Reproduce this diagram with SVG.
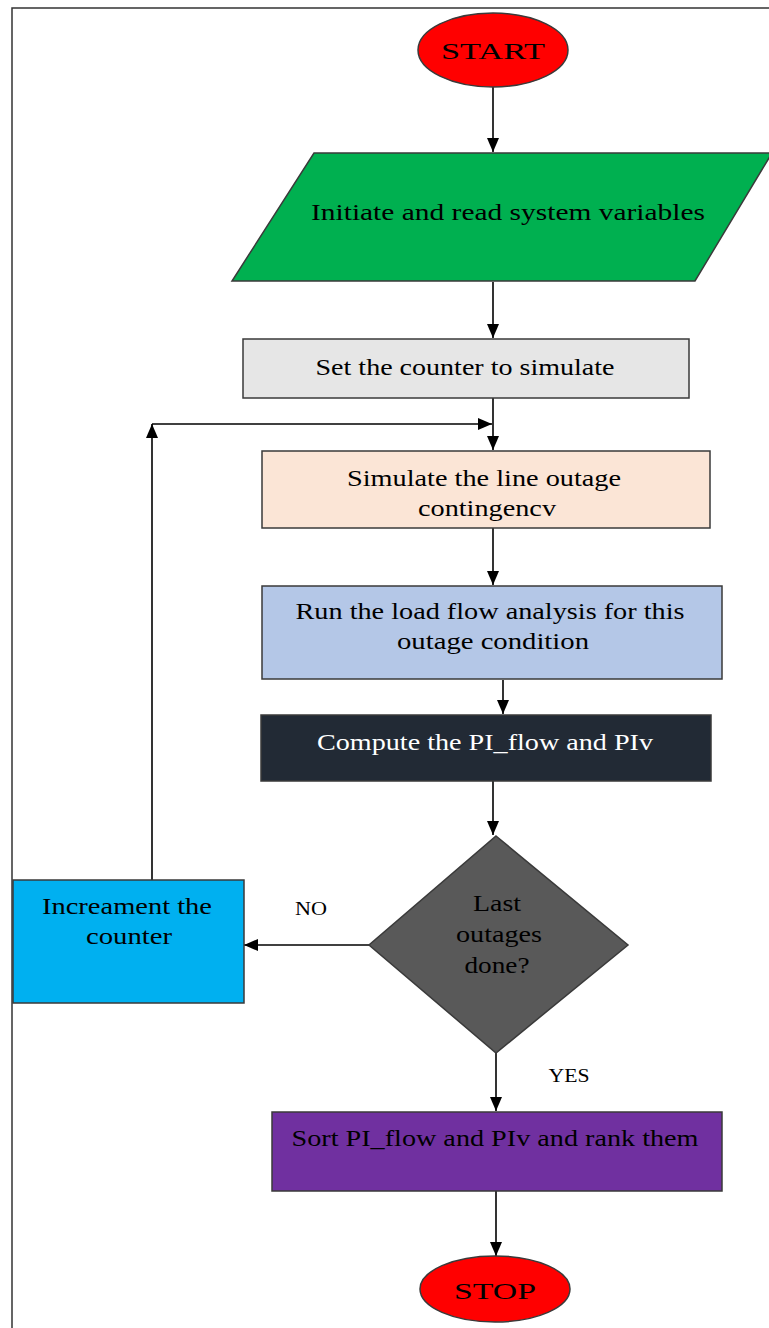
<svg xmlns="http://www.w3.org/2000/svg" width="769" height="1328" viewBox="0 0 769 1328">
<defs>
<marker id="arr" markerUnits="userSpaceOnUse" markerWidth="14" markerHeight="12" refX="14" refY="6" orient="auto">
<path d="M0,0 L14,6 L0,12 z" fill="#000"/>
</marker>
<style>
.t{font-family:"Liberation Serif","Times New Roman",serif;font-size:24px;fill:#000;text-anchor:middle}
.w{fill:#fff}
.lbl{font-family:"Liberation Serif","Times New Roman",serif;font-size:18px;fill:#000;text-anchor:middle}
.n{stroke:#3a3a3a;stroke-width:1.5}
.c{fill:none;stroke:#000;stroke-width:1.6}
</style>
</defs>
<rect width="769" height="1328" fill="#fff"/>
<rect x="12" y="8" width="780" height="1340" fill="none" stroke="#333" stroke-width="1.5"/>
<g id="connectors">
<path class="c" d="M493,86 L493,152" marker-end="url(#arr)"/>
<path class="c" d="M493,282 L493,338" marker-end="url(#arr)"/>
<path class="c" d="M493,398 L493,450" marker-end="url(#arr)"/>
<path class="c" d="M152,880 L152,424" marker-end="url(#arr)"/>
<path class="c" d="M152,424 L492,424" marker-end="url(#arr)"/>
<path class="c" d="M493,528 L493,585" marker-end="url(#arr)"/>
<path class="c" d="M503,680 L503,714" marker-end="url(#arr)"/>
<path class="c" d="M493,781 L493,835" marker-end="url(#arr)"/>
<path class="c" d="M369,945 L244,945" marker-end="url(#arr)"/>
<path class="c" d="M496,1053 L496,1111" marker-end="url(#arr)"/>
<path class="c" d="M496,1191 L496,1256" marker-end="url(#arr)"/>
<text class="lbl" x="311" y="915" textLength="32" lengthAdjust="spacingAndGlyphs">NO</text>
<text class="lbl" x="569" y="1082" textLength="41" lengthAdjust="spacingAndGlyphs">YES</text>
</g>
<g id="start">
<ellipse class="n" cx="493" cy="50" rx="75" ry="37" fill="#ff0000"/>
<text class="t" x="493" y="59" font-size="30" textLength="104" lengthAdjust="spacingAndGlyphs">START</text>
</g>
<g id="input">
<polygon class="n" points="314,153 772,153 695,281 232,281" fill="#00b050"/>
<text class="t" x="508" y="220" textLength="394" lengthAdjust="spacingAndGlyphs">Initiate and read system variables</text>
</g>
<g id="setcounter">
<rect class="n" x="243" y="339" width="446" height="59" fill="#e6e6e6"/>
<text class="t" x="465" y="375" textLength="299" lengthAdjust="spacingAndGlyphs">Set the counter to simulate</text>
</g>
<g id="simulate">
<rect class="n" x="262" y="451" width="448" height="77" fill="#fbe5d6"/>
<text class="t" x="484" y="486" textLength="274" lengthAdjust="spacingAndGlyphs">Simulate the line outage</text>
<text class="t" x="487" y="516" textLength="138" lengthAdjust="spacingAndGlyphs">contingencv</text>
</g>
<g id="loadflow">
<rect class="n" x="262" y="586" width="460" height="93" fill="#b4c7e7"/>
<text class="t" x="490" y="619" textLength="389" lengthAdjust="spacingAndGlyphs">Run the load flow analysis for this</text>
<text class="t" x="493" y="649" textLength="192" lengthAdjust="spacingAndGlyphs">outage condition</text>
</g>
<g id="compute">
<rect class="n" x="261" y="715" width="450" height="66" fill="#222a35"/>
<text class="t w" x="485" y="750" textLength="336" lengthAdjust="spacingAndGlyphs">Compute the PI_flow and PIv</text>
</g>
<g id="decision">
<polygon class="n" points="496,836 628,945 496,1053 369,945" fill="#595959"/>
<text class="t" x="497" y="911" textLength="48" lengthAdjust="spacingAndGlyphs">Last</text>
<text class="t" x="499" y="942" textLength="86" lengthAdjust="spacingAndGlyphs">outages</text>
<text class="t" x="497" y="973" textLength="65" lengthAdjust="spacingAndGlyphs">done?</text>
</g>
<g id="increment">
<rect class="n" x="13" y="880" width="231" height="123" fill="#00b0f0"/>
<text class="t" x="127" y="914" textLength="170" lengthAdjust="spacingAndGlyphs">Increament the</text>
<text class="t" x="129" y="944" textLength="86" lengthAdjust="spacingAndGlyphs">counter</text>
</g>
<g id="sort">
<rect class="n" x="272" y="1112" width="450" height="79" fill="#7030a0"/>
<text class="t" x="495" y="1146" textLength="407" lengthAdjust="spacingAndGlyphs">Sort PI_flow and PIv and rank them</text>
</g>
<g id="stop">
<ellipse class="n" cx="495" cy="1289" rx="75" ry="33" fill="#ff0000"/>
<text class="t" x="495" y="1299" font-size="30" textLength="82" lengthAdjust="spacingAndGlyphs">STOP</text>
</g>
</svg>
